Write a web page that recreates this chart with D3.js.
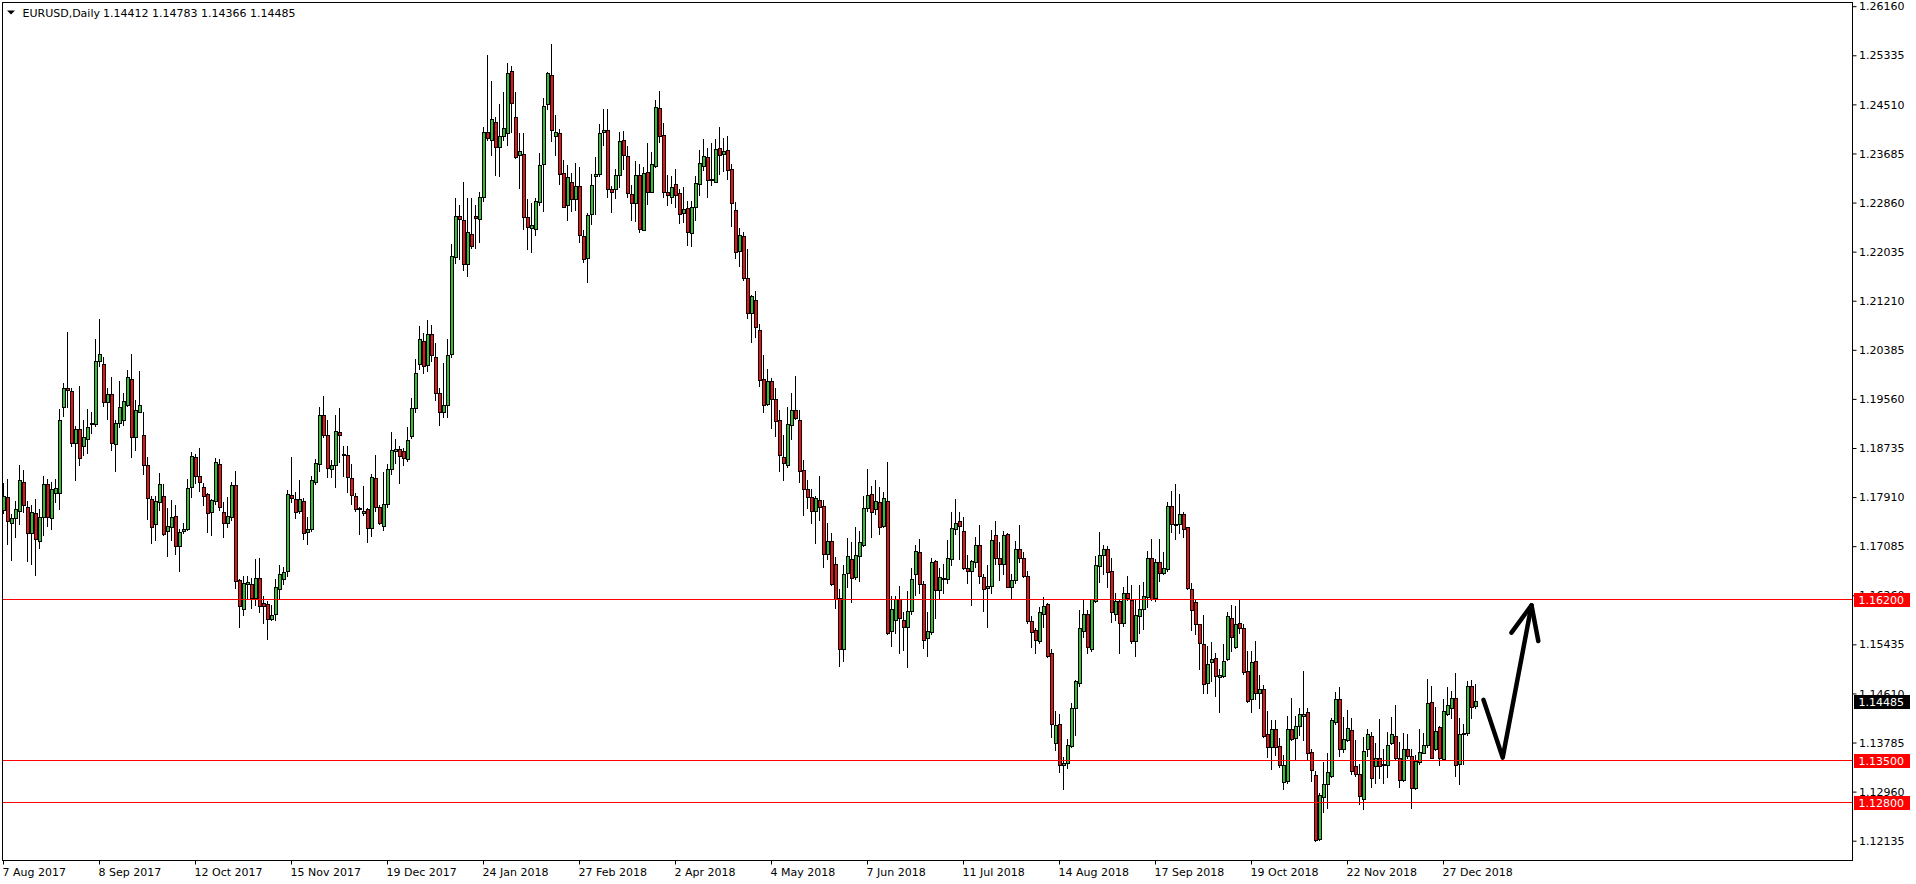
<!DOCTYPE html>
<html><head><meta charset="utf-8">
<script src="https://cdn.jsdelivr.net/npm/d3@7"></script>
<style>
html,body{margin:0;padding:0;background:#fff;}
svg{display:block;}
text{font-family:"DejaVu Sans",sans-serif;font-size:11px;}
</style>
</head><body>
<svg id="chart" width="1916" height="884"></svg>
<script>
// ---------------- DATA ----------------
const symbolLabel = "EURUSD,Daily";
const headerValues = ["1.14412","1.14783","1.14366","1.14485"];

const open = [
1.1770,1.1792,1.1749,1.1756,1.1769,1.1818,1.1775,1.1732,1.1765,1.1718,
1.1759,1.1813,1.1757,1.1798,1.1798,1.1944,1.1976,1.1970,1.1882,1.1906,
1.1878,1.1890,1.1915,1.1915,1.2021,1.2015,1.1951,1.1965,1.1881,1.1916,
1.1921,1.1947,1.1991,1.1892,1.1935,1.1897,1.1845,1.1788,1.1747,1.1784,
1.1793,1.1735,1.1741,1.1760,1.1709,1.1734,1.1738,1.1808,1.1859,1.1827,
1.1809,1.1797,1.1766,1.1786,1.1847,1.1766,1.1748,1.1759,1.1812,1.1652,
1.1603,1.1645,1.1646,1.1622,1.1656,1.1613,1.1612,1.1587,1.1595,1.1637,
1.1654,1.1667,1.1796,1.1789,1.1769,1.1786,1.1733,1.1738,1.1818,1.1847,
1.1929,1.1897,1.1839,1.1845,1.1902,1.1865,1.1863,1.1824,1.1794,1.1773,
1.1765,1.1771,1.1740,1.1824,1.1775,1.1744,1.1780,1.1839,1.1869,1.1873,
1.1869,1.1856,1.1894,1.1941,1.2015,1.2054,1.2014,1.2066,1.2027,1.1967,
1.1935,1.1946,1.2032,1.2195,1.2265,1.2258,1.2183,1.2234,1.2265,1.2259,
1.2296,1.2405,1.2392,1.2422,1.2380,1.2399,1.2403,1.2508,1.2430,1.2367,
1.2368,1.2262,1.2244,1.2242,1.2287,1.2351,1.2453,1.2501,1.2399,1.2403,
1.2336,1.2282,1.2322,1.2293,1.2315,1.2230,1.2193,1.2267,1.2331,1.2335,
1.2405,1.2409,1.2309,1.2309,1.2333,1.2392,1.2365,1.2301,1.2286,1.2333,
1.2241,1.2338,1.2305,1.2349,1.2445,1.2400,1.2304,1.2297,1.2318,1.2303,
1.2269,1.2277,1.2235,1.2280,1.2318,1.2349,1.2363,1.2327,1.2322,1.2378,
1.2368,1.2375,1.2343,1.2275,1.2206,1.2230,1.2160,1.2101,1.2123,1.2073,
1.1991,1.1949,1.1987,1.1956,1.1922,1.1860,1.1845,1.1913,1.1938,1.1922,
1.1838,1.1806,1.1792,1.1769,1.1787,1.1777,1.1696,1.1718,1.1680,1.1623,
1.1536,1.1664,1.1688,1.1658,1.1693,1.1711,1.1773,1.1797,1.1772,1.1783,
1.1744,1.1786,1.1566,1.1585,1.1621,1.1585,1.1574,1.1601,1.1663,1.1699,
1.1645,1.1555,1.1565,1.1685,1.1636,1.1654,1.1654,1.1687,1.1739,1.1751,
1.1735,1.1672,1.1668,1.1682,1.1711,1.1658,1.1639,1.1642,1.1728,1.1690,
1.1680,1.1729,1.1641,1.1653,1.1704,1.1690,1.1659,1.1584,1.1568,1.1550,
1.1595,1.1612,1.1529,1.1379,1.1410,1.1341,1.1345,1.1373,1.1438,1.1479,
1.1567,1.1595,1.1536,1.1617,1.1676,1.1694,1.1705,1.1667,1.1595,1.1617,
1.1581,1.1631,1.1619,1.1550,1.1592,1.1604,1.1624,1.1689,1.1623,1.1683,
1.1665,1.1671,1.1777,1.1747,1.1747,1.1763,1.1741,1.1638,1.1616,1.1578,
1.1545,1.1480,1.1514,1.1521,1.1489,1.1491,1.1519,1.1588,1.1540,1.1580,
1.1571,1.1499,1.1452,1.1516,1.1463,1.1470,1.1393,1.1372,1.1402,1.1373,
1.1313,1.1315,1.1402,1.1387,1.1407,1.1424,1.1430,1.1363,1.1325,1.1217,
1.1287,1.1309,1.1323,1.1413,1.1452,1.1369,1.1383,1.1400,1.1340,1.1326,
1.1285,1.1368,1.1390,1.1340,1.1353,1.1342,1.1342,1.1379,1.1391,1.1354,
1.1316,1.1368,1.1357,1.1303,1.1347,1.1362,1.1375,1.1447,1.1368,1.1405,
1.1352,1.1428,1.1437,1.1455,1.1344,1.1393,1.1395,1.1474,1.14412
];

const high = [
1.1815,1.1822,1.1763,1.1785,1.1846,1.1837,1.1785,1.1778,1.1788,1.1772,
1.1827,1.1823,1.1818,1.1823,1.1940,1.1983,1.2069,1.1976,1.1911,1.1979,
1.1921,1.1940,1.1934,1.2057,1.2091,1.2028,1.1976,1.1993,1.1921,1.1987,
1.1967,1.2005,1.2032,1.1955,1.2004,1.1935,1.1860,1.1793,1.1793,1.1832,
1.1813,1.1773,1.1787,1.1779,1.1738,1.1748,1.1823,1.1867,1.1865,1.1874,
1.1816,1.1799,1.1789,1.1858,1.1856,1.1783,1.1792,1.1817,1.1835,1.1654,
1.1660,1.1660,1.1656,1.1687,1.1689,1.1625,1.1617,1.1611,1.1655,1.1678,
1.1674,1.1804,1.1860,1.1800,1.1821,1.1790,1.1758,1.1827,1.1856,1.1944,
1.1961,1.1922,1.1855,1.1930,1.1941,1.1878,1.1877,1.1848,1.1799,1.1776,
1.1811,1.1773,1.1831,1.1863,1.1779,1.1834,1.1847,1.1901,1.1890,1.1877,
1.1874,1.1909,1.1958,1.2024,1.2080,1.2067,1.2089,1.2081,1.2051,1.1975,
1.2018,1.2058,1.2217,1.2294,1.2283,1.2322,1.2294,1.2294,1.2283,1.2305,
1.2413,1.2535,1.2491,1.2430,1.2453,1.2472,1.2521,1.2517,1.2472,1.2403,
1.2403,1.2293,1.2286,1.2294,1.2370,1.2462,1.2507,1.2553,1.2434,1.2410,
1.2359,1.2350,1.2336,1.2353,1.2346,1.2241,1.2270,1.2335,1.2363,1.2419,
1.2444,1.2444,1.2315,1.2343,1.2406,1.2407,1.2382,1.2317,1.2357,1.2351,
1.2347,1.2387,1.2372,1.2459,1.2475,1.2421,1.2333,1.2332,1.2343,1.2309,
1.2313,1.2289,1.2289,1.2331,1.2375,1.2394,1.2379,1.2387,1.2393,1.2413,
1.2395,1.2399,1.2351,1.2287,1.2244,1.2238,1.2208,1.2131,1.2139,1.2082,
1.2031,1.2007,1.1992,1.1976,1.1938,1.1896,1.1944,1.1966,1.1995,1.1938,
1.1854,1.1821,1.1805,1.1794,1.1828,1.1787,1.1749,1.1732,1.1691,1.1637,
1.1677,1.1723,1.1716,1.1742,1.1735,1.1794,1.1839,1.1810,1.1821,1.1808,
1.1800,1.1851,1.1626,1.1625,1.1642,1.1599,1.1634,1.1673,1.1712,1.1721,
1.1650,1.1599,1.1690,1.1686,1.1672,1.1680,1.1720,1.1766,1.1789,1.1766,
1.1759,1.1694,1.1686,1.1725,1.1745,1.1663,1.1677,1.1737,1.1751,1.1717,
1.1735,1.1731,1.1662,1.1718,1.1745,1.1700,1.1667,1.1592,1.1571,1.1607,
1.1624,1.1613,1.1536,1.1432,1.1428,1.1355,1.1386,1.1445,1.1484,1.1602,
1.1621,1.1602,1.1621,1.1693,1.1733,1.1711,1.1710,1.1689,1.1630,1.1619,
1.1640,1.1659,1.1644,1.1621,1.1644,1.1649,1.1701,1.1721,1.1687,1.1722,
1.1700,1.1784,1.1802,1.1813,1.1797,1.1767,1.1742,1.1647,1.1621,1.1579,
1.1593,1.1541,1.1549,1.1530,1.1503,1.1545,1.1599,1.1610,1.1609,1.1620,
1.1579,1.1533,1.1533,1.1550,1.1493,1.1476,1.1432,1.1418,1.1418,1.1387,
1.1359,1.1424,1.1455,1.1424,1.1437,1.1499,1.1438,1.1368,1.1331,1.1295,
1.1346,1.1361,1.1421,1.1465,1.1472,1.1423,1.1434,1.1420,1.1383,1.1343,
1.1389,1.1402,1.1397,1.1379,1.1419,1.1368,1.1397,1.1423,1.1442,1.1381,
1.1395,1.1393,1.1369,1.1358,1.1402,1.1395,1.1486,1.1474,1.1439,1.1407,
1.1453,1.1472,1.1466,1.1497,1.1420,1.1411,1.1482,1.1484,1.14783
];

const low = [
1.1765,1.1713,1.1686,1.1724,1.1747,1.1767,1.1685,1.1679,1.1661,1.1706,
1.1728,1.1743,1.1738,1.1783,1.1772,1.1928,1.1943,1.1878,1.1821,1.1846,
1.1863,1.1866,1.1899,1.1911,1.2012,1.1945,1.1923,1.1871,1.1836,1.1910,
1.1913,1.1945,1.1860,1.1871,1.1934,1.1830,1.1755,1.1715,1.1719,1.1770,
1.1728,1.1693,1.1720,1.1696,1.1668,1.1731,1.1737,1.1792,1.1816,1.1802,
1.1779,1.1733,1.1728,1.1781,1.1770,1.1724,1.1741,1.1753,1.1639,1.1573,
1.1593,1.1623,1.1605,1.1611,1.1598,1.1580,1.1553,1.1586,1.1585,1.1622,
1.1646,1.1660,1.1783,1.1757,1.1765,1.1721,1.1713,1.1734,1.1813,1.1835,
1.1893,1.1825,1.1825,1.1809,1.1850,1.1827,1.1800,1.1780,1.1769,1.1730,
1.1761,1.1716,1.1727,1.1769,1.1747,1.1736,1.1775,1.1830,1.1849,1.1815,
1.1845,1.1853,1.1891,1.1935,1.2007,1.2000,1.2003,1.2020,1.1955,1.1913,
1.1927,1.1927,1.2027,1.2186,1.2192,1.2174,1.2163,1.2210,1.2211,1.2221,
1.2289,1.2392,1.2367,1.2333,1.2332,1.2392,1.2383,1.2406,1.2361,1.2312,
1.2243,1.2209,1.2203,1.2233,1.2282,1.2273,1.2444,1.2391,1.2366,1.2318,
1.2279,1.2257,1.2272,1.2275,1.2220,1.2187,1.2153,1.2251,1.2268,1.2331,
1.2383,1.2296,1.2271,1.2294,1.2313,1.2343,1.2297,1.2258,1.2255,1.2237,
1.2240,1.2284,1.2304,1.2346,1.2389,1.2297,1.2282,1.2286,1.2279,1.2252,
1.2254,1.2216,1.2213,1.2258,1.2300,1.2342,1.2297,1.2317,1.2321,1.2334,
1.2340,1.2327,1.2248,1.2194,1.2180,1.2156,1.2093,1.2053,1.2061,1.1979,
1.1935,1.1946,1.1908,1.1895,1.1835,1.1821,1.1843,1.1889,1.1923,1.1818,
1.1762,1.1773,1.1748,1.1715,1.1754,1.1674,1.1688,1.1644,1.1606,1.1508,
1.1516,1.1640,1.1615,1.1655,1.1651,1.1710,1.1769,1.1725,1.1764,1.1730,
1.1742,1.1561,1.1541,1.1563,1.1530,1.1535,1.1506,1.1596,1.1628,1.1631,
1.1538,1.1525,1.1561,1.1589,1.1620,1.1630,1.1647,1.1677,1.1730,1.1688,
1.1671,1.1648,1.1610,1.1675,1.1648,1.1601,1.1574,1.1631,1.1680,1.1652,
1.1663,1.1640,1.1620,1.1648,1.1683,1.1658,1.1581,1.1540,1.1529,1.1547,
1.1573,1.1523,1.1389,1.1367,1.1329,1.1301,1.1336,1.1372,1.1392,1.1474,
1.1557,1.1529,1.1533,1.1616,1.1649,1.1662,1.1640,1.1582,1.1586,1.1529,
1.1575,1.1619,1.1547,1.1525,1.1564,1.1570,1.1607,1.1619,1.1617,1.1651,
1.1662,1.1667,1.1733,1.1721,1.1731,1.1725,1.1638,1.1568,1.1561,1.1503,
1.1463,1.1462,1.1483,1.1458,1.1431,1.1490,1.1518,1.1533,1.1539,1.1564,
1.1495,1.1448,1.1431,1.1453,1.1438,1.1389,1.1355,1.1335,1.1358,1.1339,
1.1301,1.1312,1.1383,1.1352,1.1392,1.1383,1.1350,1.1315,1.1214,1.1215,
1.1263,1.1270,1.1322,1.1411,1.1357,1.1364,1.1382,1.1326,1.1323,1.1276,
1.1267,1.1357,1.1305,1.1311,1.1319,1.1311,1.1322,1.1377,1.1350,1.1305,
1.1315,1.1353,1.1270,1.1301,1.1344,1.1361,1.1371,1.1353,1.1367,1.1341,
1.1350,1.1425,1.1421,1.1323,1.1309,1.1344,1.1392,1.1421,1.14366
];

const close = [
1.1793,1.1752,1.1756,1.1771,1.1820,1.1778,1.1732,1.1766,1.1722,1.1758,
1.1813,1.1759,1.1805,1.1807,1.1921,1.1976,1.1971,1.1882,1.1907,1.1858,
1.1893,1.1910,1.1917,1.2020,1.2033,1.1951,1.1965,1.1883,1.1916,1.1943,
1.1953,1.1993,1.1892,1.1939,1.1946,1.1846,1.1791,1.1742,1.1785,1.1813,
1.1730,1.1743,1.1758,1.1709,1.1733,1.1739,1.1807,1.1861,1.1827,1.1818,
1.1794,1.1765,1.1787,1.1850,1.1776,1.1748,1.1760,1.1812,1.1650,1.1608,
1.1648,1.1649,1.1622,1.1656,1.1608,1.1608,1.1587,1.1594,1.1641,1.1663,
1.1666,1.1797,1.1790,1.1767,1.1789,1.1731,1.1739,1.1821,1.1849,1.1929,
1.1897,1.1841,1.1846,1.1903,1.1897,1.1862,1.1825,1.1795,1.1772,1.1772,
1.1769,1.1740,1.1825,1.1775,1.1749,1.1780,1.1839,1.1871,1.1873,1.1861,
1.1857,1.1888,1.1941,1.2000,1.2057,1.2012,1.2066,1.2030,1.1967,1.1935,
1.1946,1.2031,1.2197,1.2265,1.2259,1.2183,1.2237,1.2213,1.2261,1.2296,
1.2405,1.2395,1.2427,1.2381,1.2399,1.2412,1.2504,1.2454,1.2364,1.2374,
1.2262,1.2245,1.2249,1.2289,1.2350,1.2449,1.2504,1.2409,1.2405,1.2335,
1.2280,1.2329,1.2293,1.2315,1.2233,1.2192,1.2266,1.2316,1.2335,1.2403,
1.2409,1.2309,1.2304,1.2333,1.2390,1.2366,1.2303,1.2286,1.2333,1.2242,
1.2336,1.2304,1.2352,1.2447,1.2399,1.2305,1.2299,1.2313,1.2299,1.2267,
1.2276,1.2237,1.2279,1.2319,1.2353,1.2365,1.2324,1.2325,1.2377,1.2366,
1.2373,1.2342,1.2286,1.2204,1.2232,1.2160,1.2101,1.2130,1.2078,1.1989,
1.1947,1.1987,1.1957,1.1920,1.1862,1.1849,1.1914,1.1938,1.1925,1.1835,
1.1806,1.1792,1.1769,1.1790,1.1776,1.1696,1.1718,1.1646,1.1621,1.1537,
1.1663,1.1692,1.1656,1.1694,1.1716,1.1773,1.1796,1.1766,1.1785,1.1742,
1.1791,1.1563,1.1604,1.1621,1.1589,1.1574,1.1601,1.1655,1.1702,1.1646,
1.1552,1.1566,1.1682,1.1636,1.1658,1.1656,1.1690,1.1740,1.1748,1.1744,
1.1673,1.1668,1.1684,1.1711,1.1659,1.1638,1.1642,1.1719,1.1690,1.1680,
1.1728,1.1641,1.1653,1.1704,1.1689,1.1659,1.1583,1.1565,1.1551,1.1598,
1.1609,1.1525,1.1410,1.1409,1.1342,1.1345,1.1376,1.1437,1.1483,1.1571,
1.1596,1.1540,1.1620,1.1677,1.1694,1.1705,1.1666,1.1599,1.1617,1.1581,
1.1630,1.1622,1.1550,1.1593,1.1603,1.1625,1.1689,1.1620,1.1682,1.1665,
1.1672,1.1777,1.1746,1.1745,1.1764,1.1739,1.1639,1.1602,1.1578,1.1546,
1.1477,1.1512,1.1519,1.1491,1.1493,1.1517,1.1592,1.1557,1.1578,1.1572,
1.1498,1.1449,1.1514,1.1463,1.1470,1.1391,1.1372,1.1402,1.1371,1.1341,
1.1342,1.1402,1.1386,1.1407,1.1427,1.1427,1.1362,1.1334,1.1215,1.1291,
1.1309,1.1330,1.1417,1.1452,1.1369,1.1385,1.1403,1.1332,1.1326,1.1290,
1.1365,1.1393,1.1319,1.1354,1.1340,1.1344,1.1376,1.1393,1.1354,1.1317,
1.1369,1.1357,1.1303,1.1348,1.1363,1.1376,1.1445,1.1354,1.1399,1.1354,
1.1432,1.1442,1.1455,1.1342,1.1393,1.1396,1.1474,1.1439,1.14485
];

const yTickValues = [1.26160,1.25335,1.24510,1.23685,1.22860,1.22035,1.21210,1.20385,1.19560,
  1.18735,1.17910,1.17085,1.16260,1.15435,1.14610,1.13785,1.12960,1.12135];
const xTickLabels = ["7 Aug 2017","8 Sep 2017","12 Oct 2017","15 Nov 2017","19 Dec 2017",
  "24 Jan 2018","27 Feb 2018","2 Apr 2018","4 May 2018","7 Jun 2018","11 Jul 2018",
  "14 Aug 2018","17 Sep 2018","19 Oct 2018","22 Nov 2018","27 Dec 2018"];
const levelPrices = [1.16200, 1.13500, 1.12800];
const lastPrice = 1.14485;
const firstDate = "2017-08-07";
const marketHolidays = ["2017-12-25","2018-01-01","2018-12-25","2019-01-01"];
// hand-drawn arrow annotation: [bar index, price]
const arrowStroke = [[370,1.1451],[374.8,1.1354],[382,1.1610]];
const arrowHeadStroke = [[377,1.1564],[382,1.1610],[383.7,1.1550]];

// ---------------- BUILD ----------------
const n = Math.min(open.length, high.length, low.length, close.length);
const fmt = d3.utcFormat("%-d %b %Y");
const isoF = d3.utcFormat("%Y-%m-%d");
const dates = [];
{
  let d = new Date(firstDate + "T00:00:00Z");
  const skip = new Set(marketHolidays);
  while (dates.length < n) {
    const wd = d.getUTCDay();
    if (wd !== 0 && wd !== 6 && !skip.has(isoF(d))) dates.push(new Date(d));
    d = new Date(d.getTime() + 86400000);
  }
}
const bars = d3.range(n).map(i => ({i, o:open[i], h:high[i], l:low[i], c:close[i], date:dates[i]}));

const W = 1916, H = 884;
const plot = {left:2, top:2, right:1852, bottom:860};

const x = d3.scaleLinear().domain([0, 368]).range([3.5, 1475.5]);
const y = d3.scaleLinear().domain([1.26160, 1.12135]).range([6.7, 841.2]);

const svg = d3.select("#chart");
svg.append("rect").attr("width",W).attr("height",H).attr("fill","#fff");

svg.append("clipPath").attr("id","plotclip").append("rect")
  .attr("x",plot.left+1).attr("y",plot.top+1)
  .attr("width",plot.right-plot.left-1).attr("height",plot.bottom-plot.top-1);

const g = svg.append("g").attr("clip-path","url(#plotclip)");

const UP = "#32c032", DOWN = "#ee1111";
const top_ = d => Math.round(y(Math.max(d.o,d.c)));
const bot_ = d => Math.round(y(Math.min(d.o,d.c)));

// wicks
g.append("g").selectAll("rect").data(bars).join("rect")
  .attr("x", d => Math.floor(x(d.i)))
  .attr("y", d => Math.round(y(d.h)))
  .attr("width", 1)
  .attr("height", d => Math.round(y(d.l)) - Math.round(y(d.h)) + 1)
  .attr("fill","#000");

// body outline (1px black frame)
g.append("g").selectAll("rect").data(bars).join("rect")
  .attr("x", d => Math.floor(x(d.i)) - 1)
  .attr("y", top_)
  .attr("width", 4)
  .attr("height", d => bot_(d) - top_(d) + 1)
  .attr("fill","#000");

// body fill
g.append("g").selectAll("rect").data(bars.filter(d => bot_(d) - top_(d) > 1)).join("rect")
  .attr("x", d => Math.floor(x(d.i)))
  .attr("y", d => top_(d) + 1)
  .attr("width", 2)
  .attr("height", d => bot_(d) - top_(d) - 1)
  .attr("fill", d => d.c >= d.o ? UP : DOWN);

// horizontal levels
g.append("g").selectAll("line").data(levelPrices).join("line")
  .attr("x1", plot.left).attr("x2", plot.right)
  .attr("y1", d => Math.round(y(d)) + 0.5).attr("y2", d => Math.round(y(d)) + 0.5)
  .attr("stroke","#ff0000").attr("stroke-width",1);

// arrow annotation
const line = d3.line().x(d => x(d[0])).y(d => y(d[1]));
g.append("path").attr("d", line(arrowStroke))
  .attr("fill","none").attr("stroke","#000").attr("stroke-width",4.5)
  .attr("stroke-linecap","round").attr("stroke-linejoin","round");
g.append("path").attr("d", line(arrowHeadStroke))
  .attr("fill","none").attr("stroke","#000").attr("stroke-width",4.5)
  .attr("stroke-linecap","round").attr("stroke-linejoin","round");

// frame
svg.append("rect").attr("x",plot.left+0.5).attr("y",plot.top+0.5)
  .attr("width",plot.right-plot.left).attr("height",plot.bottom-plot.top)
  .attr("fill","none").attr("stroke","#000").attr("stroke-width",1);

// Y axis (right)
const yAxis = d3.axisRight(y).tickValues(yTickValues).tickSize(4).tickSizeOuter(0)
  .tickFormat(d => d.toFixed(5)).offset(0);
const gy = svg.append("g").attr("transform",`translate(${plot.right+0.5},0)`).call(yAxis);
gy.select(".domain").remove();
gy.attr("font-family","DejaVu Sans").attr("font-size",11);
gy.selectAll(".tick line").attr("stroke","#000");
gy.selectAll(".tick text").attr("fill","#000").attr("x",6.5).attr("dy","0.33em");

// X axis (bottom)
const labelIdx = xTickLabels.map(lbl => bars.findIndex(b => fmt(b.date) === lbl));
const xAxis = d3.axisBottom(x).tickValues(labelIdx).tickSize(4).tickSizeOuter(0)
  .tickFormat((d,k) => xTickLabels[k]).offset(0);
const gx = svg.append("g").attr("transform",`translate(0,${plot.bottom+0.5})`).call(xAxis);
gx.select(".domain").remove();
gx.attr("font-family","DejaVu Sans").attr("font-size",11);
gx.selectAll(".tick line").attr("stroke","#000");
gx.selectAll(".tick text").attr("fill","#000").attr("text-anchor","start")
  .attr("x",-1).attr("y",15.5).attr("dy",null);

// price labels on axis
const labels = levelPrices.map(p => ({p, bg:"#ff0000"})).concat([{p:lastPrice, bg:"#000"}]);
const lg = svg.append("g");
lg.selectAll("rect").data(labels).join("rect")
  .attr("x", plot.right + 2).attr("y", d => Math.round(y(d.p)) - 6)
  .attr("width", 56).attr("height", 14).attr("fill", d => d.bg);
lg.selectAll("text").data(labels).join("text")
  .attr("x", plot.right + 6.5).attr("y", d => Math.round(y(d.p)) + 5)
  .attr("fill","#fff").text(d => d.p.toFixed(5));

// header
svg.append("path").attr("d","M7,10.5 L15,10.5 L11,14.5 Z").attr("fill","#000");
svg.append("text").attr("x",22.5).attr("y",17).attr("fill","#000").text(symbolLabel);
svg.append("text").attr("x",103).attr("y",17).attr("fill","#000").text(headerValues.join(" "));
</script>
</body></html>
